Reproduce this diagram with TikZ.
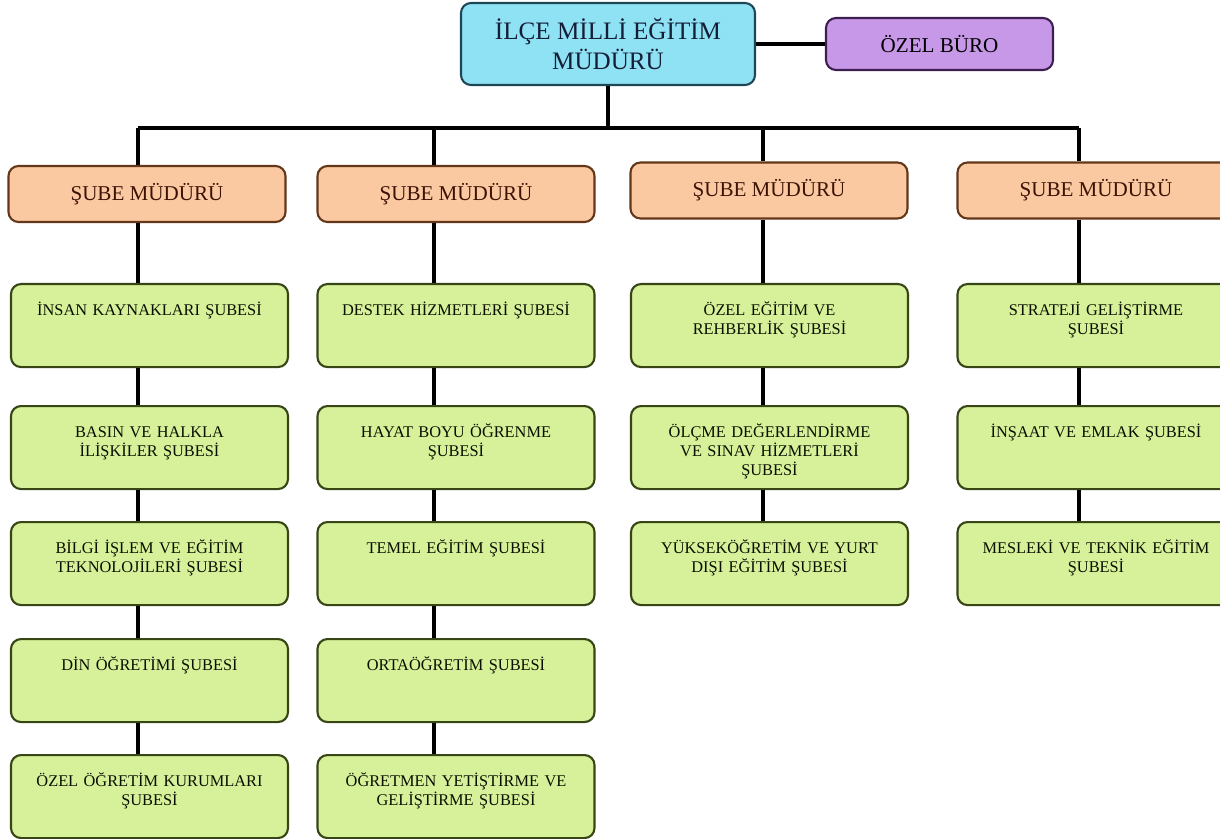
\documentclass[tikz,border=0pt]{standalone}
\usepackage{fontspec}
\setmainfont{Liberation Serif}
\usepackage{tikz}

\definecolor{mfill}{RGB}{142,226,244}
\definecolor{mdraw}{RGB}{30,70,85}
\definecolor{mtext}{RGB}{20,30,55}
\definecolor{bfill}{RGB}{200,152,232}
\definecolor{bdraw}{RGB}{60,30,80}
\definecolor{sfill}{RGB}{250,201,162}
\definecolor{sdraw}{RGB}{100,55,25}
\definecolor{stext}{RGB}{60,18,5}
\definecolor{gfill}{RGB}{215,241,154}
\definecolor{gdraw}{RGB}{55,70,20}
\definecolor{gtext}{RGB}{10,15,0}

\begin{document}
\begin{tikzpicture}[
    line/.style={line width=2.2pt, black},
    box/.style={rounded corners=0.2cm, line width=1.2pt, align=center, inner sep=0pt},
    mbox/.style={box, draw=mdraw, fill=mfill, text=mtext, minimum width=5.88cm, minimum height=1.64cm, font=\fontsize{14.3}{17}\selectfont},
    bbox/.style={box, draw=bdraw, fill=bfill, minimum width=4.54cm, minimum height=1.04cm, font=\fontsize{12}{14}\selectfont},
    sbox/.style={box, draw=sdraw, fill=sfill, text=stext, minimum width=5.54cm, minimum height=1.12cm, font=\fontsize{12}{14}\selectfont},
    gbox/.style={box, draw=gdraw, fill=gfill, text=gtext, anchor=north, text width=5.3cm, minimum width=5.54cm, text height=0.62cm, text depth=1.04cm, font=\fontsize{9.3}{11}\selectfont}
  ]
    \useasboundingbox (0,0) rectangle (24.4,-16.78);

    \node[mbox] at (12.16,-0.88) (M) {İLÇE MİLLİ EĞİTİM\\MÜDÜRÜ};
    \node[bbox] at (18.79,-0.88) (B) {ÖZEL BÜRO};

    \coordinate (H1) at (2.76,-2.56);
    \coordinate (H2) at (8.68,-2.56);
    \coordinate (H3) at (15.26,-2.56);
    \coordinate (H4) at (21.58,-2.56);

    \node[sbox] at (2.94,-3.88) (S1) {ŞUBE MÜDÜRÜ};
    \node[sbox] at (9.12,-3.88) (S2) {ŞUBE MÜDÜRÜ};
    \node[sbox] at (15.38,-3.81) (S3) {ŞUBE MÜDÜRÜ};
    \node[sbox] at (21.92,-3.81) (S4) {ŞUBE MÜDÜRÜ};

    \node[gbox] at (2.99,-5.66) (G11) {İNSAN KAYNAKLARI ŞUBESİ};
    \node[gbox] at (2.99,-8.10) (G12) {BASIN VE HALKLA\\İLİŞKİLER ŞUBESİ};
    \node[gbox] at (2.99,-10.42) (G13) {BİLGİ İŞLEM VE EĞİTİM\\TEKNOLOJİLERİ ŞUBESİ};
    \node[gbox] at (2.99,-12.76) (G14) {DİN ÖĞRETİMİ ŞUBESİ};
    \node[gbox] at (2.99,-15.08) (G15) {ÖZEL ÖĞRETİM KURUMLARI\\ŞUBESİ};

    \node[gbox] at (9.12,-5.66) (G21) {DESTEK HİZMETLERİ ŞUBESİ};
    \node[gbox] at (9.12,-8.10) (G22) {HAYAT BOYU ÖĞRENME\\ŞUBESİ};
    \node[gbox] at (9.12,-10.42) (G23) {TEMEL EĞİTİM ŞUBESİ};
    \node[gbox] at (9.12,-12.76) (G24) {ORTAÖĞRETİM ŞUBESİ};
    \node[gbox] at (9.12,-15.08) (G25) {ÖĞRETMEN YETİŞTİRME VE\\GELİŞTİRME ŞUBESİ};

    \node[gbox] at (15.39,-5.66) (G31) {ÖZEL EĞİTİM VE\\REHBERLİK ŞUBESİ};
    \node[gbox] at (15.39,-8.10) (G32) {ÖLÇME DEĞERLENDİRME\\VE SINAV HİZMETLERİ\\ŞUBESİ};
    \node[gbox] at (15.39,-10.42) (G33) {YÜKSEKÖĞRETİM VE YURT\\DIŞI EĞİTİM ŞUBESİ};

    \node[gbox] at (21.92,-5.66) (G41) {STRATEJİ GELİŞTİRME\\ŞUBESİ};
    \node[gbox] at (21.92,-8.10) (G42) {İNŞAAT VE EMLAK ŞUBESİ};
    \node[gbox] at (21.92,-10.42) (G43) {MESLEKİ VE TEKNİK EĞİTİM\\ŞUBESİ};

    % top level
    \draw[line] (M.east) -- (B.west);
    \draw[line] (M.south) -- (M.south |- H1);
    \draw[line] (H1) -- (H4);
    \draw[line] (H1) -- (S1.north -| H1);
    \draw[line] (H2) -- (S2.north -| H2);
    \draw[line] (H3) -- (S3.north -| H3);
    \draw[line] (H4) -- (S4.north -| H4);

    % columns
    \draw[line] (S1.south -| H1) -- (G11.north -| H1);
    \draw[line] (G11.south -| H1) -- (G12.north -| H1);
    \draw[line] (G12.south -| H1) -- (G13.north -| H1);
    \draw[line] (G13.south -| H1) -- (G14.north -| H1);
    \draw[line] (G14.south -| H1) -- (G15.north -| H1);

    \draw[line] (S2.south -| H2) -- (G21.north -| H2);
    \draw[line] (G21.south -| H2) -- (G22.north -| H2);
    \draw[line] (G22.south -| H2) -- (G23.north -| H2);
    \draw[line] (G23.south -| H2) -- (G24.north -| H2);
    \draw[line] (G24.south -| H2) -- (G25.north -| H2);

    \draw[line] (S3.south -| H3) -- (G31.north -| H3);
    \draw[line] (G31.south -| H3) -- (G32.north -| H3);
    \draw[line] (G32.south -| H3) -- (G33.north -| H3);

    \draw[line] (S4.south -| H4) -- (G41.north -| H4);
    \draw[line] (G41.south -| H4) -- (G42.north -| H4);
    \draw[line] (G42.south -| H4) -- (G43.north -| H4);
\end{tikzpicture}
\end{document}
